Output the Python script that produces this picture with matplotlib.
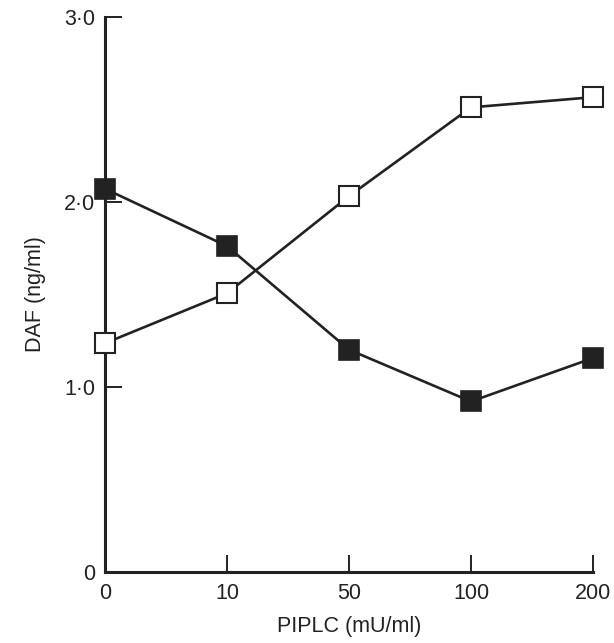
import matplotlib
matplotlib.use("Agg")
import matplotlib.pyplot as plt

# PIPLC concentrations (categorical, equally spaced on the axis)
piplc = ["0", "10", "50", "100", "200"]
# filled squares
daf_filled = [2.07, 1.76, 1.20, 0.92, 1.155]
# open squares
daf_open = [1.235, 1.505, 2.03, 2.51, 2.565]

y_ticks = [0, 1.0, 2.0, 3.0]
y_ticklabels = ["0", "1\u00b70", "2\u00b70", "3\u00b70"]

plt.rcParams['font.family'] = ['Liberation Sans', 'DejaVu Sans']
ink = '#222222'

fig = plt.figure(figsize=(6.14, 6.43), dpi=100)
ax = fig.add_axes([0.171, 0.1109, 0.7948, 0.8631])

x = list(range(len(piplc)))
ax.plot(x, daf_filled, color=ink, lw=1.9, marker='s', ms=14, mfc=ink, mec=ink,
        mew=1.2, clip_on=False, zorder=3)
ax.plot(x, daf_open, color=ink, lw=1.9, marker='s', ms=14, mfc='white', mec=ink,
        mew=1.5, clip_on=False, zorder=3)

ax.set_xlim(0, len(piplc) - 1)
ax.set_ylim(0, 3.0)
ax.set_xticks(x)
ax.set_xticklabels(piplc)
ax.set_yticks(y_ticks)
ax.set_yticklabels(y_ticklabels)

for s in ['top', 'right']:
    ax.spines[s].set_visible(False)
for s in ['left', 'bottom']:
    ax.spines[s].set_linewidth(2.2)
    ax.spines[s].set_color(ink)

ax.tick_params(direction='in', length=12, width=1.4, color=ink,
               labelsize=15.5, labelcolor=ink)
ax.tick_params(axis='x', pad=8)
ax.tick_params(axis='y', pad=7)

ax.set_xlabel("PIPLC (mU/ml)", fontsize=15.5, color=ink, labelpad=9)
ax.set_ylabel("DAF (ng/ml)", fontsize=15.5, color=ink, labelpad=13)

fig.savefig("out.png", dpi=100)
